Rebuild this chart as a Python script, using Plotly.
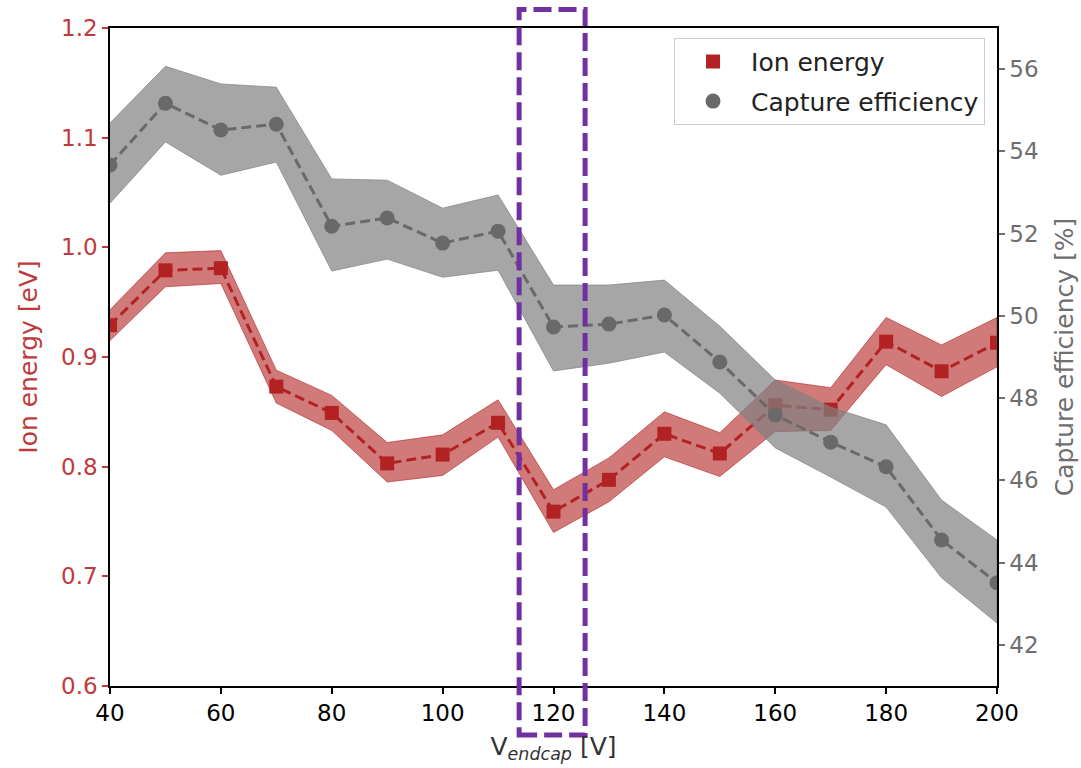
import plotly.graph_objects as go

# Endcap voltage sweep
v_endcap = [40, 50, 60, 70, 80, 90, 100, 110, 120, 130, 140, 150, 160, 170, 180, 190, 200]

# Ion energy [eV] with its uncertainty band
ion_energy = [0.929, 0.979, 0.981, 0.873, 0.849, 0.803, 0.811, 0.840, 0.759, 0.788,
              0.830, 0.812, 0.856, 0.852, 0.914, 0.887, 0.913]
ion_upper = [0.943, 0.995, 0.997, 0.888, 0.865, 0.822, 0.829, 0.861, 0.779, 0.808,
             0.850, 0.831, 0.879, 0.872, 0.936, 0.911, 0.936]
ion_lower = [0.915, 0.964, 0.967, 0.858, 0.833, 0.786, 0.792, 0.827, 0.740, 0.768,
             0.809, 0.791, 0.832, 0.833, 0.893, 0.864, 0.891]

# Capture efficiency [%] with its uncertainty band
capture = [53.67, 55.17, 54.52, 54.66, 52.18, 52.38, 51.77, 52.06, 49.73, 49.80,
           50.02, 48.88, 47.59, 46.93, 46.33, 44.55, 43.51]
capture_upper = [54.69, 56.07, 55.64, 55.56, 53.33, 53.30, 52.62, 52.94, 50.75, 50.75,
                 50.87, 49.75, 48.44, 47.78, 47.35, 45.52, 44.55]
capture_lower = [52.74, 54.23, 53.42, 53.74, 51.09, 51.38, 50.94, 51.11, 48.66, 48.85,
                 49.12, 48.12, 46.79, 46.08, 45.35, 43.63, 42.53]

# Highlighted voltage window
highlight_window = [113.8, 125.7]

RED = "#b22222"
RED_TEXT = "#c0393b"
GREY = "#696969"
GREY_TEXT = "#6e6e6e"
FONT = "DejaVu Sans"
FS_TICK = 23
FS_TEXT = 25

fig = go.Figure()

# Ion energy: band, then dashed line with square markers
fig.add_trace(go.Scatter(
    x=v_endcap + v_endcap[::-1], y=ion_upper + ion_lower[::-1],
    fill="toself", fillcolor="rgba(178,34,34,0.6)",
    line=dict(color="rgba(178,34,34,0.6)", width=1),
    mode="lines", hoverinfo="skip", showlegend=False, yaxis="y"))
fig.add_trace(go.Scatter(
    x=v_endcap, y=ion_energy, mode="lines+markers",
    line=dict(color=RED, width=3, dash="10px,5px"),
    marker=dict(symbol="square", size=14, color=RED),
    showlegend=False, yaxis="y"))

# Capture efficiency on the secondary axis
fig.add_trace(go.Scatter(
    x=v_endcap + v_endcap[::-1], y=capture_upper + capture_lower[::-1],
    fill="toself", fillcolor="rgba(128,128,128,0.7)",
    line=dict(color="rgba(128,128,128,0.7)", width=1),
    mode="lines", hoverinfo="skip", showlegend=False, yaxis="y2"))
fig.add_trace(go.Scatter(
    x=v_endcap, y=capture, mode="lines+markers",
    line=dict(color=GREY, width=3, dash="10px,5px"),
    marker=dict(symbol="circle", size=15, color=GREY),
    showlegend=False, yaxis="y2"))

# Marker-only legend entries
fig.add_trace(go.Scatter(
    x=[None], y=[None], mode="markers", name="Ion energy",
    marker=dict(symbol="square", size=14, color=RED), legendgroup="a"))
fig.add_trace(go.Scatter(
    x=[None], y=[None], mode="markers", name="Capture efficiency",
    marker=dict(symbol="circle", size=15, color=GREY), legendgroup="b", yaxis="y2"))

fig.add_shape(
    type="rect", xref="x", yref="paper",
    x0=highlight_window[0], x1=highlight_window[1], y0=-0.0745, y1=1.028,
    line=dict(color="#7030a0", width=5, dash="18px,7px"),
    fillcolor="rgba(0,0,0,0)", layer="above")

fig.update_layout(
    width=1081, height=768,
    margin=dict(l=110, r=84, t=28, b=82),
    paper_bgcolor="white", plot_bgcolor="white",
    font=dict(family=FONT, size=FS_TICK, color="black"),
    xaxis=dict(
        range=[40, 200], tickmode="array", tickvals=[40, 60, 80, 100, 120, 140, 160, 180, 200],
        showgrid=False, zeroline=False, automargin=False,
        showline=True, linecolor="black", linewidth=1.5, mirror=True,
        ticks="outside", ticklen=6, tickwidth=1.5, tickcolor="black",
        tickfont=dict(family=FONT, size=FS_TICK, color="black"),
        title=dict(text="V<sub><i>endcap</i></sub> [V]", standoff=12,
                   font=dict(family=FONT, size=FS_TEXT, color="#333333"))),
    yaxis=dict(
        range=[0.6, 1.2], tickmode="array", tickvals=[0.6, 0.7, 0.8, 0.9, 1.0, 1.1, 1.2],
        tickformat=".1f", showgrid=False, zeroline=False, automargin=False,
        showline=True, linecolor="black", linewidth=1.5,
        ticks="outside", ticklen=6, tickwidth=1.5, tickcolor=RED_TEXT,
        tickfont=dict(family=FONT, size=FS_TICK, color=RED_TEXT),
        title=dict(text="Ion energy [eV]", standoff=16,
                   font=dict(family=FONT, size=FS_TEXT, color=RED_TEXT))),
    yaxis2=dict(
        range=[41, 57], tickmode="array", tickvals=[42, 44, 46, 48, 50, 52, 54, 56],
        overlaying="y", side="right", showgrid=False, zeroline=False, automargin=False,
        showline=True, linecolor="black", linewidth=1.5,
        ticks="outside", ticklen=6, tickwidth=1.5, tickcolor=GREY_TEXT,
        tickfont=dict(family=FONT, size=FS_TICK, color=GREY_TEXT),
        title=dict(text="Capture efficiency [%]", standoff=18,
                   font=dict(family=FONT, size=FS_TEXT, color=GREY_TEXT))),
    legend=dict(
        x=0.9865, y=0.985, xanchor="right", yanchor="top",
        bgcolor="white", bordercolor="#cccccc", borderwidth=1,
        font=dict(family=FONT, size=FS_TEXT, color="#222222"),
        itemwidth=66, tracegroupgap=4),
    showlegend=True,
)

fig.write_html("out.html")
